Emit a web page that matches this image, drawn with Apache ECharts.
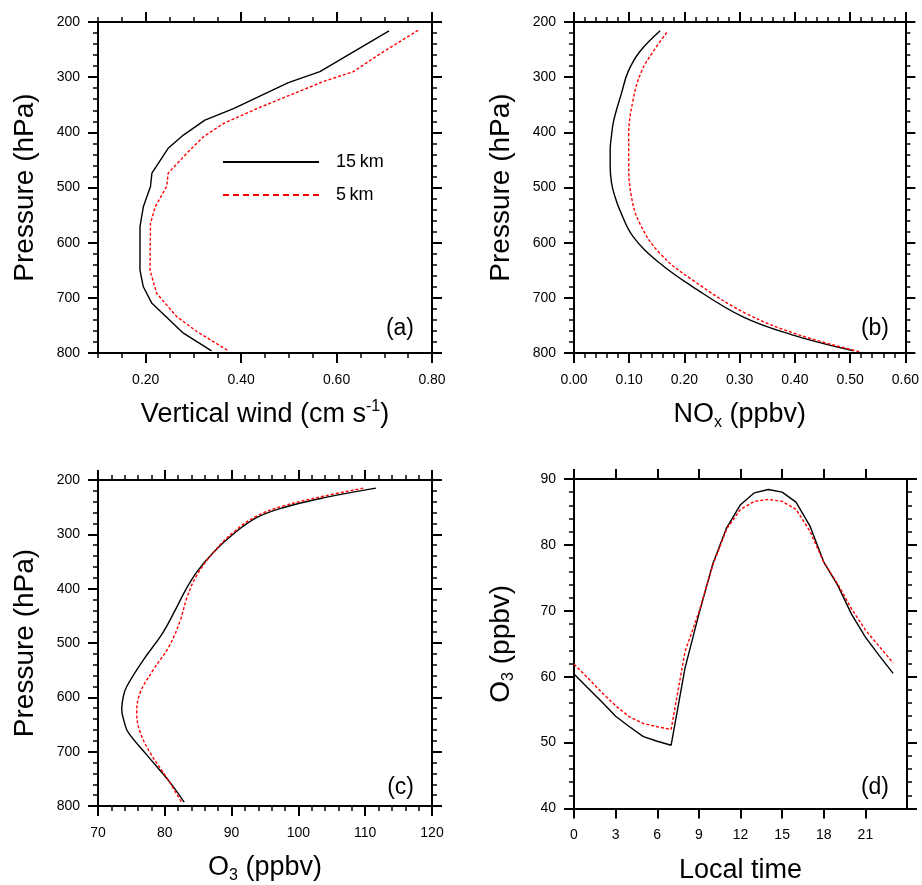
<!DOCTYPE html>
<html><head><meta charset="utf-8">
<script src="https://cdn.jsdelivr.net/npm/echarts@6/dist/echarts.min.js"></script>
<style>html,body{margin:0;padding:0;background:#fff}#c{width:922px;height:885px}</style>
</head><body><div id="c"></div>
<script>
// ---- tick labels ----
const pressureTicks = [200, 300, 400, 500, 600, 700, 800];
const windTicks = [0.2, 0.4, 0.6, 0.8];
const noxTicks = [0, 0.1, 0.2, 0.3, 0.4, 0.5, 0.6];
const o3Ticks = [70, 80, 90, 100, 110, 120];
const hourTicks = [0, 3, 6, 9, 12, 15, 18, 21];
const o3DiurnalTicks = [40, 50, 60, 70, 80, 90];

// ---- series names ----
const seriesNames = ['15\u2009km', '5\u2009km'];

// ---- (a) vertical wind profiles ----
const windP15 = [216, 290, 310, 357, 378, 405, 429, 474, 498, 535, 571, 650, 680, 710, 764, 796];
const wind15 = [0.710, 0.565, 0.499, 0.384, 0.324, 0.279, 0.247, 0.213, 0.210, 0.195, 0.188, 0.188, 0.195, 0.213, 0.279, 0.338];
const windP5 = [215, 254, 290, 308, 357, 384, 408, 438, 474, 498, 535, 565, 650, 692, 734, 761, 796];
const wind5 = [0.771, 0.698, 0.635, 0.572, 0.433, 0.363, 0.321, 0.286, 0.247, 0.244, 0.220, 0.210, 0.209, 0.223, 0.265, 0.307, 0.373];

// ---- (b) NOx profiles ----
const noxP15 = [216, 254, 290, 329, 378, 405, 432, 462, 492, 516, 541, 589, 637, 680, 734, 767, 796];
const nox15 = [0.156, 0.119, 0.098, 0.086, 0.072, 0.068, 0.0655, 0.0655, 0.068, 0.074, 0.083, 0.107, 0.155, 0.215, 0.305, 0.395, 0.506];
const noxP5 = [219, 254, 290, 341, 408, 456, 517, 565, 619, 668, 728, 767, 798];
const nox5 = [0.168, 0.143, 0.122, 0.107, 0.099, 0.099, 0.104, 0.119, 0.155, 0.215, 0.311, 0.407, 0.518];

// ---- (c) O3 profiles ----
const o3P15 = [215, 233, 251, 269, 299, 333, 369, 405, 441, 483, 531, 580, 598, 622, 646, 664, 706, 757, 793];
const o3prof15 = [111.6, 103.7, 97.7, 93.8, 90.3, 87.3, 84.8, 83.0, 81.5, 79.6, 76.8, 74.3, 73.8, 73.55, 73.95, 74.5, 77.3, 80.8, 82.9];
const o3P5 = [215, 230, 248, 266, 296, 333, 375, 417, 459, 507, 549, 592, 628, 664, 706, 748, 793];
const o3prof5 = [109.7, 103.7, 97.7, 93.8, 90.3, 87.3, 84.8, 83.3, 82.3, 80.6, 78.3, 76.3, 75.8, 76.3, 78.0, 80.3, 82.5];

// ---- (d) O3 diurnal cycle ----
const hours = [0, 1, 2, 3, 4, 5, 6, 7, 8, 9, 10, 11, 12, 13, 14, 15, 16, 17, 18, 19, 20, 21, 22, 23];
const o3day15 = [60.4, 58.3, 56.2, 54.0, 52.4, 50.9, 50.2, 49.6, 61.3, 69.5, 77.1, 82.6, 86.1, 87.9, 88.4, 88.0, 86.5, 82.9, 77.4, 73.9, 69.5, 66.0, 63.2, 60.5];
const o3day5 = [61.9, 59.8, 57.6, 55.6, 53.9, 52.9, 52.4, 52.0, 63.8, 69.8, 76.9, 82.4, 85.4, 86.6, 86.9, 86.6, 85.4, 82.1, 77.4, 74.1, 70.3, 67.1, 64.6, 62.1];

const FONT = '"Liberation Sans", Arial, Helvetica, sans-serif';
const pairs = (xs, ys) => xs.map((x, i) => [x, ys[i]]);

const xAxes = [], yAxes = [];
function titleRich(fs) {
  return {
    n: { fontSize: fs, lineHeight: 32, fontFamily: FONT, color: '#000' },
    sup: { fontSize: 16, lineHeight: 16, verticalAlign: 'top', fontFamily: FONT, color: '#000' },
    sub: { fontSize: 16, lineHeight: 16, verticalAlign: 'bottom', fontFamily: FONT, color: '#000' }
  };
}

function makeAxes(list, grid, side, o) {
  const major = {
    type: 'value', gridIndex: grid, position: side, offset: 0, min: o.min, max: o.max, inverse: !!o.inverse,
    axisLine: { show: true, onZero: false, lineStyle: { color: '#000', width: 2 } },
    axisTick: { show: true, inside: false, length: 10, customValues: o.ticks, lineStyle: { color: '#000', width: 2 } },
    axisLabel: { show: !!o.label, customValues: o.ticks, formatter: o.fmt, margin: o.margin || 18,
      color: '#000', fontSize: 14, fontFamily: FONT },
    splitLine: { show: false }, minorTick: { show: false }
  };
  if (o.name) {
    major.name = o.name;
    major.nameLocation = 'middle';
    major.nameGap = o.nameGap;
    major.nameTextStyle = { fontSize: o.fs, fontFamily: FONT, color: '#000', rich: titleRich(o.fs) };
  }
  const idx = list.push(major) - 1;
  if (o.minor) {
    list.push({
      type: 'value', gridIndex: grid, position: side, offset: 0, min: o.min, max: o.max, interval: o.minor, inverse: !!o.inverse,
      axisLine: { show: false, onZero: false }, axisLabel: { show: false }, splitLine: { show: false },
      axisTick: { show: true, inside: false, length: 5, lineStyle: { color: '#000', width: 1.5 } }
    });
  }
  return idx;
}

const f2 = v => v.toFixed(2);
const f0 = v => String(Math.round(v));
const XGAP = 46, YGAP = 57;

const panels = [
  { grid: { left: 98, top: 22, width: 334, height: 331 },
    x: { min: 0.1, max: 0.8, ticks: windTicks, minor: 0.05, fmt: f2, name: '{n|Vertical wind (cm s}{sup|-1}{n|)}' },
    y: { min: 200, max: 800, ticks: pressureTicks, minor: 20, fmt: f0, inverse: true, name: '{n|Pressure (hPa)}' },
    series: [[windP15, wind15], [windP5, wind5]], smooth: false, tag: '(a)' },
  { grid: { left: 574, top: 22, width: 333, height: 331 },
    x: { min: 0, max: 0.6, ticks: noxTicks, minor: 0.02, fmt: f2, name: '{n|NO}{sub|x}{n| (ppbv)}' },
    y: { min: 200, max: 800, ticks: pressureTicks, minor: 20, fmt: f0, inverse: true, name: '{n|Pressure (hPa)}' },
    series: [[noxP15, nox15], [noxP5, nox5]], smooth: 0.4, tag: '(b)' },
  { grid: { left: 98, top: 480, width: 334, height: 332 },
    x: { min: 70, max: 120, ticks: o3Ticks, minor: 2, fmt: f0, name: '{n|O}{sub|3}{n| (ppbv)}' },
    y: { min: 200, max: 800, ticks: pressureTicks, minor: 20, fmt: f0, inverse: true, name: '{n|Pressure (hPa)}' },
    series: [[o3P15, o3prof15], [o3P5, o3prof5]], smooth: 0.4, tag: '(c)' },
  { grid: { left: 574, top: 479, width: 333, height: 333 },
    x: { min: 0, max: 24, ticks: hourTicks, minor: null, fmt: f0, name: '{n|Local time}' },
    y: { min: 40, max: 90, ticks: o3DiurnalTicks, minor: 2, fmt: f0, inverse: false, name: '{n|O}{sub|3}{n| (ppbv)}' },
    series: [[hours, o3day15], [hours, o3day5]], smooth: false, xIsFirst: true, tag: '(d)' }
];

const grids = [], series = [], graphics = [];
panels.forEach((p, g) => {
  grids.push(p.grid);
  const xi = makeAxes(xAxes, g, 'bottom', Object.assign({}, p.x, { label: true, nameGap: XGAP, margin: 20, fs: 27 }));
  makeAxes(xAxes, g, 'top', Object.assign({}, p.x, { label: false, name: null }));
  const yi = makeAxes(yAxes, g, 'left', Object.assign({}, p.y, { label: true, nameGap: YGAP, margin: 18, fs: 28 }));
  makeAxes(yAxes, g, 'right', Object.assign({}, p.y, { label: false, name: null }));
  p.series.forEach((s, k) => {
    const data = p.xIsFirst ? pairs(s[0], s[1]) : pairs(s[1], s[0]);
    series.push({
      type: 'line', name: seriesNames[k], xAxisIndex: xi, yAxisIndex: yi, data: data,
      symbol: 'none', smooth: p.smooth, animation: false,
      lineStyle: k === 0 ? { color: '#000', width: 1.4, type: 'solid' } : { color: '#ff0000', width: 1.4, type: [3, 2] },
      itemStyle: { color: k === 0 ? '#000' : '#ff0000' }
    });
  });
  graphics.push({
    type: 'text', x: p.grid.left + p.grid.width - 18, y: p.grid.top + p.grid.height - 24,
    style: { text: p.tag, fontSize: 23, fontFamily: FONT, fill: '#000', align: 'right', verticalAlign: 'middle' }
  });
});

const chart = echarts.init(document.getElementById('c'), null, { renderer: 'canvas' });
chart.setOption({
  animation: false,
  backgroundColor: '#fff',
  grid: grids,
  xAxis: xAxes,
  yAxis: yAxes,
  series: series,
  graphic: graphics,
  legend: {
    show: true, orient: 'vertical', left: 217, top: 148, itemWidth: 96, itemHeight: 14, itemGap: 15,
    selectedMode: false,
    itemStyle: { opacity: 0 },
    data: [{ name: seriesNames[0] }, { name: seriesNames[1], lineStyle: { type: [6, 4] } }],
    textStyle: { fontSize: 18, fontFamily: FONT, color: '#000', padding: [0, 0, 0, 12] }
  }
});
</script>
</body></html>
